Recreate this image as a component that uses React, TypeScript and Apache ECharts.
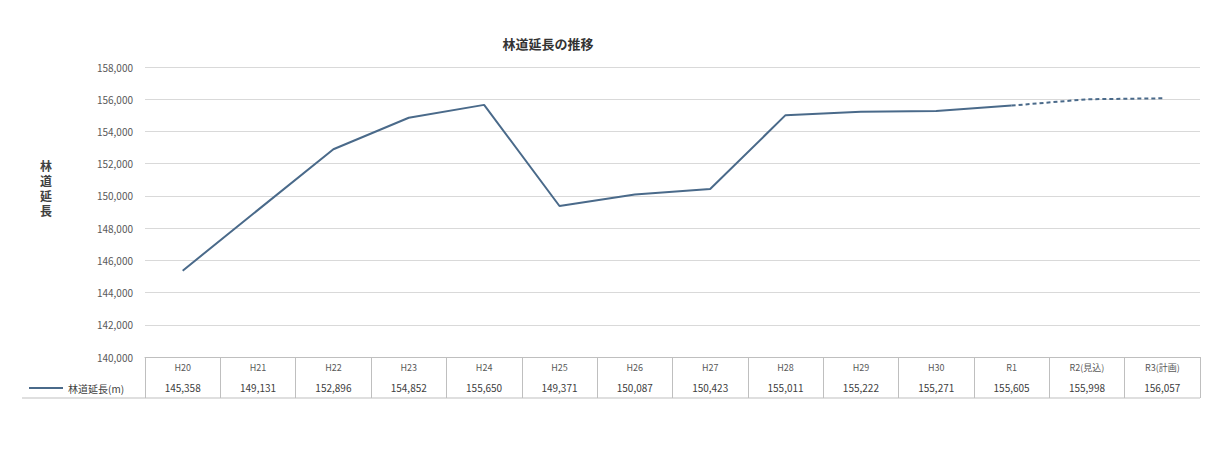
import React, { useEffect, useRef } from "react";
import * as echarts from "echarts";

const categories = ["H20", "H21", "H22", "H23", "H24", "H25", "H26", "H27", "H28", "H29", "H30", "R1", "R2(見込)", "R3(計画)"];
const roadLength = [145358, 149131, 152896, 154852, 155650, 149371, 150087, 150423, 155011, 155222, 155271, 155605, 155998, 156057];
const solidUntil = 11; // index of R1: last measured value
const yTicks = { min: 140000, max: 158000, interval: 2000 };
const seriesName = "林道延長(m)";
const titleText = "林道延長の推移";
const yAxisTitle = "林道延長";

const fmt = (v: number) => v.toLocaleString("en-US");

export default function App() {
  const ref = useRef<HTMLDivElement>(null);
  useEffect(() => {
    if (!ref.current) return;
    const chart = echarts.init(ref.current, null, { renderer: "svg" });
    const solid = roadLength.map((v, i) => (i <= solidUntil ? v : null));
    const dashed = roadLength.map((v, i) => (i >= solidUntil ? v : null));
    const lineColor = "#4a6a8a";
    const font = "'Noto Sans CJK JP', 'Noto Sans', sans-serif";
    chart.setOption({
      animation: false,
      backgroundColor: "#ffffff",
      textStyle: { fontFamily: font },
      title: {
        text: titleText,
        left: 543,
        top: 32,
        textAlign: "center",
        textStyle: { fontSize: 13, fontWeight: "bold", color: "#333333" },
      },
      legend: {
        data: [seriesName],
        left: 24,
        top: 378,
        icon: "rect",
        itemWidth: 34,
        itemHeight: 2,
        itemGap: 4,
        textStyle: { fontSize: 10, color: "#404040" },
      },
      grid: { left: 145, right: 11, top: 67, bottom: 94 },
      xAxis: {
        type: "category",
        data: categories,
        boundaryGap: true,
        axisLine: { show: true, lineStyle: { color: "#bfbfbf", width: 1 } },
        axisTick: { show: true, interval: 0, length: 41, lineStyle: { color: "#bfbfbf" } },
        splitLine: { show: false },
        axisLabel: {
          interval: 0,
          margin: 2,
          formatter: (val: string, idx: number) => `{c|${val}}\n{v|${fmt(roadLength[idx])}}`,
          rich: {
            c: { fontSize: 9, color: "#595959", lineHeight: 17 },
            v: { fontSize: 10, color: "#404040", lineHeight: 23 },
          },
        },
      },
      yAxis: {
        type: "value",
        min: yTicks.min,
        max: yTicks.max,
        interval: yTicks.interval,
        axisLine: { show: false },
        axisTick: { show: false },
        axisLabel: { fontSize: 10, color: "#595959", margin: 12, formatter: (v: number) => fmt(v) },
        splitLine: { show: true, lineStyle: { color: "#d9d9d9", width: 1 } },
      },
      graphic: [
        {
          type: "line",
          shape: { x1: 22, y1: 398, x2: 1200, y2: 398 },
          style: { stroke: "#bfbfbf", lineWidth: 1 },
        },
        {
          type: "text",
          x: 46,
          y: 158,
          style: {
            text: yAxisTitle.split("").join("\n"),
            fontSize: 12,
            lineHeight: 15,
            fontWeight: "bold",
            fill: "#404040",
            align: "center",
            verticalAlign: "top",
            fontFamily: font,
          },
        },
      ],
      series: [
        {
          name: seriesName,
          type: "line",
          data: solid,
          showSymbol: false,
          symbol: "none",
          lineStyle: { color: lineColor, width: 2 },
          itemStyle: { color: lineColor },
        },
        {
          name: seriesName,
          type: "line",
          data: dashed,
          showSymbol: false,
          symbol: "none",
          lineStyle: { color: lineColor, width: 2, type: [4, 3] },
          itemStyle: { color: lineColor },
        },
      ],
    });
    return () => chart.dispose();
  }, []);
  return (
    <div
      ref={ref}
      style={{ position: "absolute", left: 0, top: 0, width: 1211, height: 451 }}
    />
  );
}
